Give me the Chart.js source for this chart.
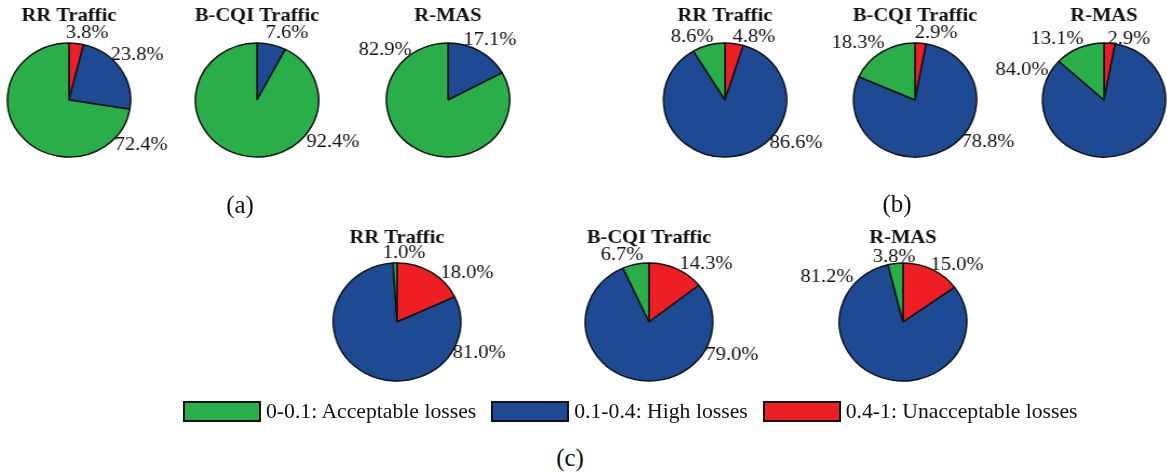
<!DOCTYPE html>
<html>
<head>
<meta charset="utf-8">
<script src="https://cdn.jsdelivr.net/npm/chart.js@4.4.0/dist/chart.umd.min.js"></script>
<style>
  body { margin: 0; background: #fff; }
  #fig { position: relative; width: 1167px; height: 472px; overflow: hidden; font-family: "Liberation Serif", "Times New Roman", serif; }
  .pie { position: absolute; width: 240px; height: 200px; transform: scaleX(1.08); transform-origin: 50% 50%; }
  .sub { position: absolute; font-size: 25px; transform: translate(-50%, -50%); color: #111; }
  #legend { position: absolute; left: 183px; top: 399px; display: flex; align-items: center; font-size: 21.7px; color: #111; }
  .item { display: flex; align-items: center; margin-right: 15px; }
  .box { width: 74px; height: 17px; border: 2px solid #111; margin-right: 5px; }
</style>
</head>
<body>
<div id="fig"></div>
<script>
// categories and classes
const categories = ['RR Traffic', 'B-CQI Traffic', 'R-MAS'];
const panels = ['(a)', '(b)', '(c)'];
const lossClasses = ['0-0.1: Acceptable losses', '0.1-0.4: High losses', '0.4-1: Unacceptable losses'];

// percentages per category (RR, B-CQI, R-MAS)
const acceptableA = [72.4, 92.4, 82.9];
const highA       = [23.8, 7.6, 17.1];
const unaccA      = [3.8, 0, 0];

const acceptableB = [8.6, 18.3, 13.1];
const highB       = [86.6, 78.8, 84.0];
const unaccB      = [4.8, 2.9, 2.9];

const acceptableC = [1.0, 6.7, 3.8];
const highC       = [81.0, 79.0, 81.2];
const unaccC      = [18.0, 14.3, 15.0];

const colors = ['#2aae4a', '#1d4a92', '#ed1f24'];

// layout: pie centres, label offsets (screen px, order acceptable/high/unacceptable)
const stretch = 1.08;
const centres = [
  [[69, 100], [257, 100], [448, 100]],
  [[725, 100], [915, 100], [1104, 100]],
  [[397, 322], [649, 322], [903, 322]]
];
const radii = [57, 57, 59];
const labelOffsets = [
  [[[72, 45], [68, -45], [18, -67]], [[76, 42], [30, -67], null], [[-63, -50], [42, -60], null]],
  [[[-33, -63], [71, 43], [29, -63]], [[-57, -57], [73, 42], [21, -67]], [[-47, -61], [-82, -30], [25, -61]]],
  [[[7, -69], [82, 31], [70, -49]], [[-27, -67], [83, 33], [57, -58]], [[-9, -65], [-76, -45], [54, -57]]]
];
const subPos = [[240, 205], [897, 204], [570, 458]];

const series = [
  [acceptableA, highA, unaccA],
  [acceptableB, highB, unaccB],
  [acceptableC, highC, unaccC]
];

// titles and percentage labels drawn around the pie
const pieText = {
  id: 'pieText',
  afterDraw(chart, args, opts) {
    const arc = chart.getDatasetMeta(0).data[0];
    const ctx = chart.ctx;
    ctx.save();
    ctx.fillStyle = '#111';
    ctx.textAlign = 'center';
    ctx.textBaseline = 'middle';
    ctx.font = 'bold 19px "Liberation Serif"';
    ctx.fillText(opts.title, arc.x, arc.y - 84);
    ctx.font = '19px "Liberation Serif"';
    opts.values.forEach((v, i) => {
      const off = opts.offsets[i];
      if (!v || !off) return;
      ctx.fillText(v.toFixed(1) + '%', arc.x + off[0] / stretch, arc.y + off[1]);
    });
    ctx.restore();
  }
};

const fig = document.getElementById('fig');

panels.forEach((p, pi) => {
  categories.forEach((cat, ci) => {
    const values = series[pi].map(s => s[ci]); // acceptable, high, unacceptable
    const c = centres[pi][ci];
    const cv = document.createElement('canvas');
    cv.className = 'pie';
    cv.width = 240; cv.height = 200;
    cv.style.left = (c[0] - 120) + 'px';
    cv.style.top = (c[1] - 100) + 'px';
    fig.appendChild(cv);

    // clockwise from the top: unacceptable, high, acceptable
    new Chart(cv.getContext('2d'), {
      type: 'pie',
      data: {
        labels: lossClasses.slice().reverse(),
        datasets: [{
          data: values.slice().reverse(),
          backgroundColor: colors.slice().reverse(),
          borderColor: '#111',
          borderWidth: 1.5,
          radius: radii[pi]
        }]
      },
      options: {
        responsive: false,
        animation: false,
        layout: { padding: 0 },
        plugins: {
          legend: { display: false },
          tooltip: { enabled: false },
          pieText: { title: cat, values: values, offsets: labelOffsets[pi][ci] }
        }
      },
      plugins: [pieText]
    });
  });

  const s = document.createElement('div');
  s.className = 'sub';
  s.textContent = p;
  s.style.left = subPos[pi][0] + 'px';
  s.style.top = subPos[pi][1] + 'px';
  fig.appendChild(s);
});

// shared legend
const legend = document.createElement('div');
legend.id = 'legend';
lossClasses.forEach((name, i) => {
  const it = document.createElement('div');
  it.className = 'item';
  const b = document.createElement('div');
  b.className = 'box';
  b.style.background = colors[i];
  const t = document.createElement('span');
  t.textContent = name;
  it.appendChild(b);
  it.appendChild(t);
  legend.appendChild(it);
});
fig.appendChild(legend);
</script>
</body>
</html>
